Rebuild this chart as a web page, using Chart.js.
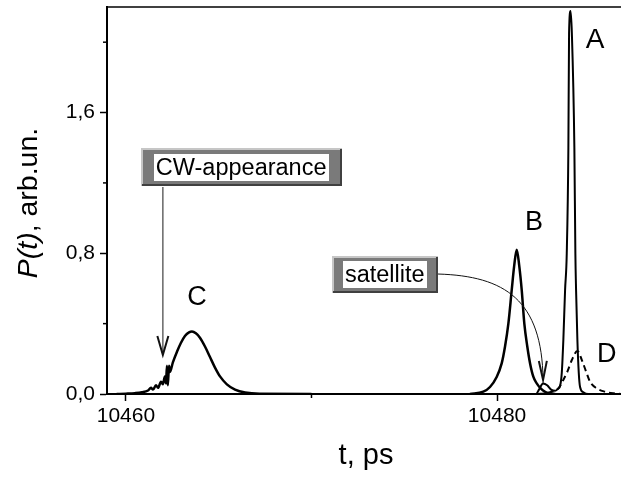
<!DOCTYPE html>
<html><head><meta charset="utf-8">
<script src="https://cdn.jsdelivr.net/npm/chart.js@4.4.0/dist/chart.umd.min.js"></script>
<style>html,body{margin:0;padding:0;background:#fff;overflow:hidden}#wrap{position:relative;width:621px;height:477px}</style>
</head><body><div id="wrap"><canvas id="c" width="621" height="477"></canvas></div>
<script>
// ---- axes ----
const xTicks = [10460, 10480];
const xMinorTicks = [10470];
const yTicks = [0, 0.8, 1.6];
const yMinorTicks = [0.4, 1.2, 2.0];
const xRange = [10458.98, 10486.68];
const yRange = [0, 2.2];

// ---- curve C (with CW noise on leading edge) ----
const tC = [10459.5, 10460.0, 10460.49, 10460.86, 10461.19, 10461.35, 10461.46, 10461.62, 10461.73, 10461.89, 10461.99, 10462.10, 10462.16, 10462.21, 10462.26, 10462.32, 10462.37, 10462.53, 10462.75, 10462.96, 10463.18, 10463.40, 10463.56, 10463.77, 10463.99, 10464.26, 10464.53, 10464.80, 10465.07, 10465.44, 10465.88, 10466.42, 10467.2, 10470];
const pC = [0, 0.002, 0.005, 0.01, 0.02, 0.035, 0.025, 0.05, 0.035, 0.07, 0.055, 0.10, 0.06, 0.16, 0.05, 0.16, 0.125, 0.18, 0.24, 0.29, 0.33, 0.35, 0.355, 0.345, 0.32, 0.27, 0.21, 0.15, 0.10, 0.055, 0.025, 0.008, 0.001, 0];

// ---- curve B ----
const tB = [10478.54, 10479.26, 10479.62, 10479.98, 10480.25, 10480.43, 10480.61, 10480.79, 10480.92, 10481.06, 10481.20, 10481.33, 10481.47, 10481.63, 10481.78, 10481.96, 10482.14, 10482.28, 10482.48, 10482.75, 10483.13];
const pB = [0, 0.013, 0.04, 0.097, 0.174, 0.27, 0.40, 0.59, 0.725, 0.82, 0.725, 0.59, 0.40, 0.27, 0.174, 0.097, 0.06, 0.04, 0.02, 0.005, 0];

// ---- curve A (with satellite) ----
const tA = [10481.5, 10482.10, 10482.26, 10482.48, 10482.70, 10482.91, 10483.13, 10483.29, 10483.397, 10483.488, 10483.574, 10483.666, 10483.757, 10483.844, 10483.881, 10483.962, 10484.032, 10484.167, 10484.221, 10484.259, 10484.329, 10484.404, 10484.474, 10484.652, 10484.906, 10486.6];
const pA = [0, 0, 0.025, 0.06, 0.05, 0.025, 0.018, 0.03, 0.045, 0.12, 0.31, 0.59, 0.8, 1.4, 2.05, 2.177, 2.05, 1.4, 0.8, 0.59, 0.31, 0.12, 0.04, 0.01, 0, 0];

// ---- curve D (dashed) ----
const tD = [10482.2, 10482.59, 10482.95, 10483.30, 10483.57, 10483.79, 10484.03, 10484.33, 10484.57, 10484.80, 10485.01, 10485.37, 10485.82, 10486.27, 10486.68];
const pD = [0, 0.004, 0.013, 0.032, 0.08, 0.127, 0.193, 0.245, 0.193, 0.127, 0.07, 0.032, 0.013, 0.004, 0];

// ---- annotations (data coordinates) ----
const peakLabels = [
  {text: 'A', t: 10485.28, p: 2.01, size: 28},
  {text: 'B', t: 10481.99, p: 0.972, size: 27},
  {text: 'C', t: 10463.83, p: 0.547, size: 27},
  {text: 'D', t: 10485.91, p: 0.222, size: 27}
];
const boxes = [
  {text: 'CW-appearance', t: 10466.21, p: 1.289, w: 201, h: 38},
  {text: 'satellite', t: 10473.95, p: 0.682, w: 106, h: 37}
];
const cwArrow = {t: 10461.99, p0: 1.177, p1: 0.222};
const satArrow = [[10476.82, 0.682], [10480.43, 0.671], [10482.43, 0.534], [10482.48, 0.08]];

const FONT = 'Arial, "Liberation Sans", Helvetica, sans-serif';
const pts = (t, p) => t.map((v, i) => ({x: v, y: p[i]}));

function openHead(ctx, tx, ty, dx, dy, len, half, color) {
  const L = Math.hypot(dx, dy); const ux = dx / L, uy = dy / L;
  const bx = tx - ux * len, by = ty - uy * len;
  ctx.save(); ctx.strokeStyle = color; ctx.lineWidth = 2; ctx.lineJoin = 'miter';
  ctx.beginPath();
  ctx.moveTo(bx - uy * half, by + ux * half); ctx.lineTo(tx, ty); ctx.lineTo(bx + uy * half, by - ux * half);
  ctx.stroke(); ctx.restore();
}

const decor = {
  id: 'decor',
  afterDraw(chart) {
    const ctx = chart.ctx, xs = chart.scales.x, ys = chart.scales.y, ca = chart.chartArea;
    ctx.save();
    // top frame
    ctx.strokeStyle = '#000'; ctx.lineWidth = 1.5;
    ctx.beginPath(); ctx.moveTo(ca.left, ca.top); ctx.lineTo(ca.right, ca.top); ctx.stroke();
    // minor ticks
    ctx.lineWidth = 1.5;
    xMinorTicks.forEach(v => { const x = xs.getPixelForValue(v); ctx.beginPath(); ctx.moveTo(x, ca.bottom); ctx.lineTo(x, ca.bottom + 4); ctx.stroke(); });
    yMinorTicks.forEach(v => { const y = ys.getPixelForValue(v); ctx.beginPath(); ctx.moveTo(ca.left, y); ctx.lineTo(ca.left - 4, y); ctx.stroke(); });
    // peak labels
    ctx.fillStyle = '#000'; ctx.textAlign = 'center'; ctx.textBaseline = 'middle';
    peakLabels.forEach(l => { ctx.font = l.size + 'px ' + FONT; ctx.fillText(l.text, xs.getPixelForValue(l.t), ys.getPixelForValue(l.p)); });
    // CW arrow
    const ax = xs.getPixelForValue(cwArrow.t), ay0 = ys.getPixelForValue(cwArrow.p0), ay1 = ys.getPixelForValue(cwArrow.p1);
    ctx.strokeStyle = '#666'; ctx.lineWidth = 1.5;
    ctx.beginPath(); ctx.moveTo(ax, ay0); ctx.lineTo(ax, ay1 - 2); ctx.stroke();
    openHead(ctx, ax, ay1, 0, 1, 19, 5.5, '#111');
    // satellite arrow
    const sp = satArrow.map(q => [xs.getPixelForValue(q[0]), ys.getPixelForValue(q[1])]);
    ctx.strokeStyle = '#111'; ctx.lineWidth = 1;
    ctx.beginPath(); ctx.moveTo(sp[0][0], sp[0][1]);
    ctx.bezierCurveTo(sp[1][0], sp[1][1], sp[2][0], sp[2][1], sp[3][0], sp[3][1]); ctx.stroke();
    openHead(ctx, sp[3][0], sp[3][1], sp[3][0] - sp[2][0], sp[3][1] - sp[2][1], 19, 4, '#111');
    // boxes
    boxes.forEach(b => {
      const cx = xs.getPixelForValue(b.t), cy = ys.getPixelForValue(b.p);
      const x0 = Math.round(cx - b.w / 2), y0 = Math.round(cy - b.h / 2);
      ctx.fillStyle = '#7a7a7a'; ctx.fillRect(x0, y0, b.w, b.h);
      ctx.lineWidth = 2;
      ctx.strokeStyle = '#c6c6c6'; ctx.beginPath(); ctx.moveTo(x0 + 1, y0 + b.h); ctx.lineTo(x0 + 1, y0 + 1); ctx.lineTo(x0 + b.w, y0 + 1); ctx.stroke();
      ctx.strokeStyle = '#404040'; ctx.beginPath(); ctx.moveTo(x0 + 1, y0 + b.h - 1); ctx.lineTo(x0 + b.w - 1, y0 + b.h - 1); ctx.lineTo(x0 + b.w - 1, y0 + 1); ctx.stroke();
      ctx.font = '23.5px ' + FONT;
      const tw = ctx.measureText(b.text).width;
      ctx.fillStyle = '#fff'; ctx.fillRect(Math.round(cx - tw / 2 - 2), Math.round(cy - 13.5), Math.round(tw + 4), 27);
      ctx.fillStyle = '#000'; ctx.textAlign = 'center'; ctx.textBaseline = 'middle';
      ctx.fillText(b.text, cx, cy + 1);
    });
    // axis titles
    ctx.fillStyle = '#000'; ctx.textBaseline = 'alphabetic'; ctx.textAlign = 'left';
    ctx.font = '29px ' + FONT;
    const xt = 't, ps'; const xw = ctx.measureText(xt).width;
    ctx.fillText(xt, 366 - xw / 2, 464);
    ctx.save(); ctx.translate(37, 203); ctx.rotate(-Math.PI / 2);
    ctx.font = 'italic 28.5px ' + FONT; const w1 = ctx.measureText('P(t)').width;
    ctx.font = '28.5px ' + FONT; const w2 = ctx.measureText(', arb.un.').width;
    const st = -(w1 + w2) / 2;
    ctx.font = 'italic 28.5px ' + FONT; ctx.fillText('P(t)', st, 0);
    ctx.font = '28.5px ' + FONT; ctx.fillText(', arb.un.', st + w1, 0);
    ctx.restore();
    ctx.restore();
  }
};

const lineDs = (label, t, p, w, dash) => ({
  label, data: pts(t, p), borderColor: '#000', borderWidth: w, borderDash: dash || [],
  pointRadius: 0, cubicInterpolationMode: 'monotone', fill: false
});

new Chart(document.getElementById('c'), {
  type: 'line',
  data: {datasets: [
    lineDs('C', tC, pC, 2.5),
    lineDs('B', tB, pB, 2.5),
    lineDs('A', tA, pA, 2),
    lineDs('D', tD, pD, 2, [6, 4])
  ]},
  options: {
    responsive: false, animation: false, devicePixelRatio: 1,
    layout: {padding: {top: 7, right: 0, left: 0, bottom: 0}},
    plugins: {legend: {display: false}, tooltip: {enabled: false}},
    scales: {
      x: {
        type: 'linear', min: xRange[0], max: xRange[1],
        afterBuildTicks: s => { s.ticks = xTicks.map(v => ({value: v})); },
        afterFit: s => { s.height = 83; s.paddingLeft = 0; s.paddingRight = 0; },
        grid: {drawOnChartArea: false, drawTicks: true, tickLength: 7, color: '#000', tickWidth: 1.5},
        border: {display: true, color: '#000', width: 2},
        ticks: {font: {family: FONT, size: 21}, color: '#000', padding: 3, maxRotation: 0, callback: v => String(v)}
      },
      y: {
        type: 'linear', min: yRange[0], max: yRange[1],
        afterBuildTicks: s => { s.ticks = yTicks.map(v => ({value: v})); },
        afterFit: s => { s.width = 107; s.paddingTop = 0; s.paddingBottom = 0; },
        grid: {drawOnChartArea: false, drawTicks: true, tickLength: 7, color: '#000', tickWidth: 1.5},
        border: {display: true, color: '#000', width: 2},
        ticks: {font: {family: FONT, size: 21}, color: '#000', padding: 5, callback: v => v.toFixed(1).replace('.', ',')}
      }
    }
  },
  plugins: [decor]
});
</script>
</body></html>
